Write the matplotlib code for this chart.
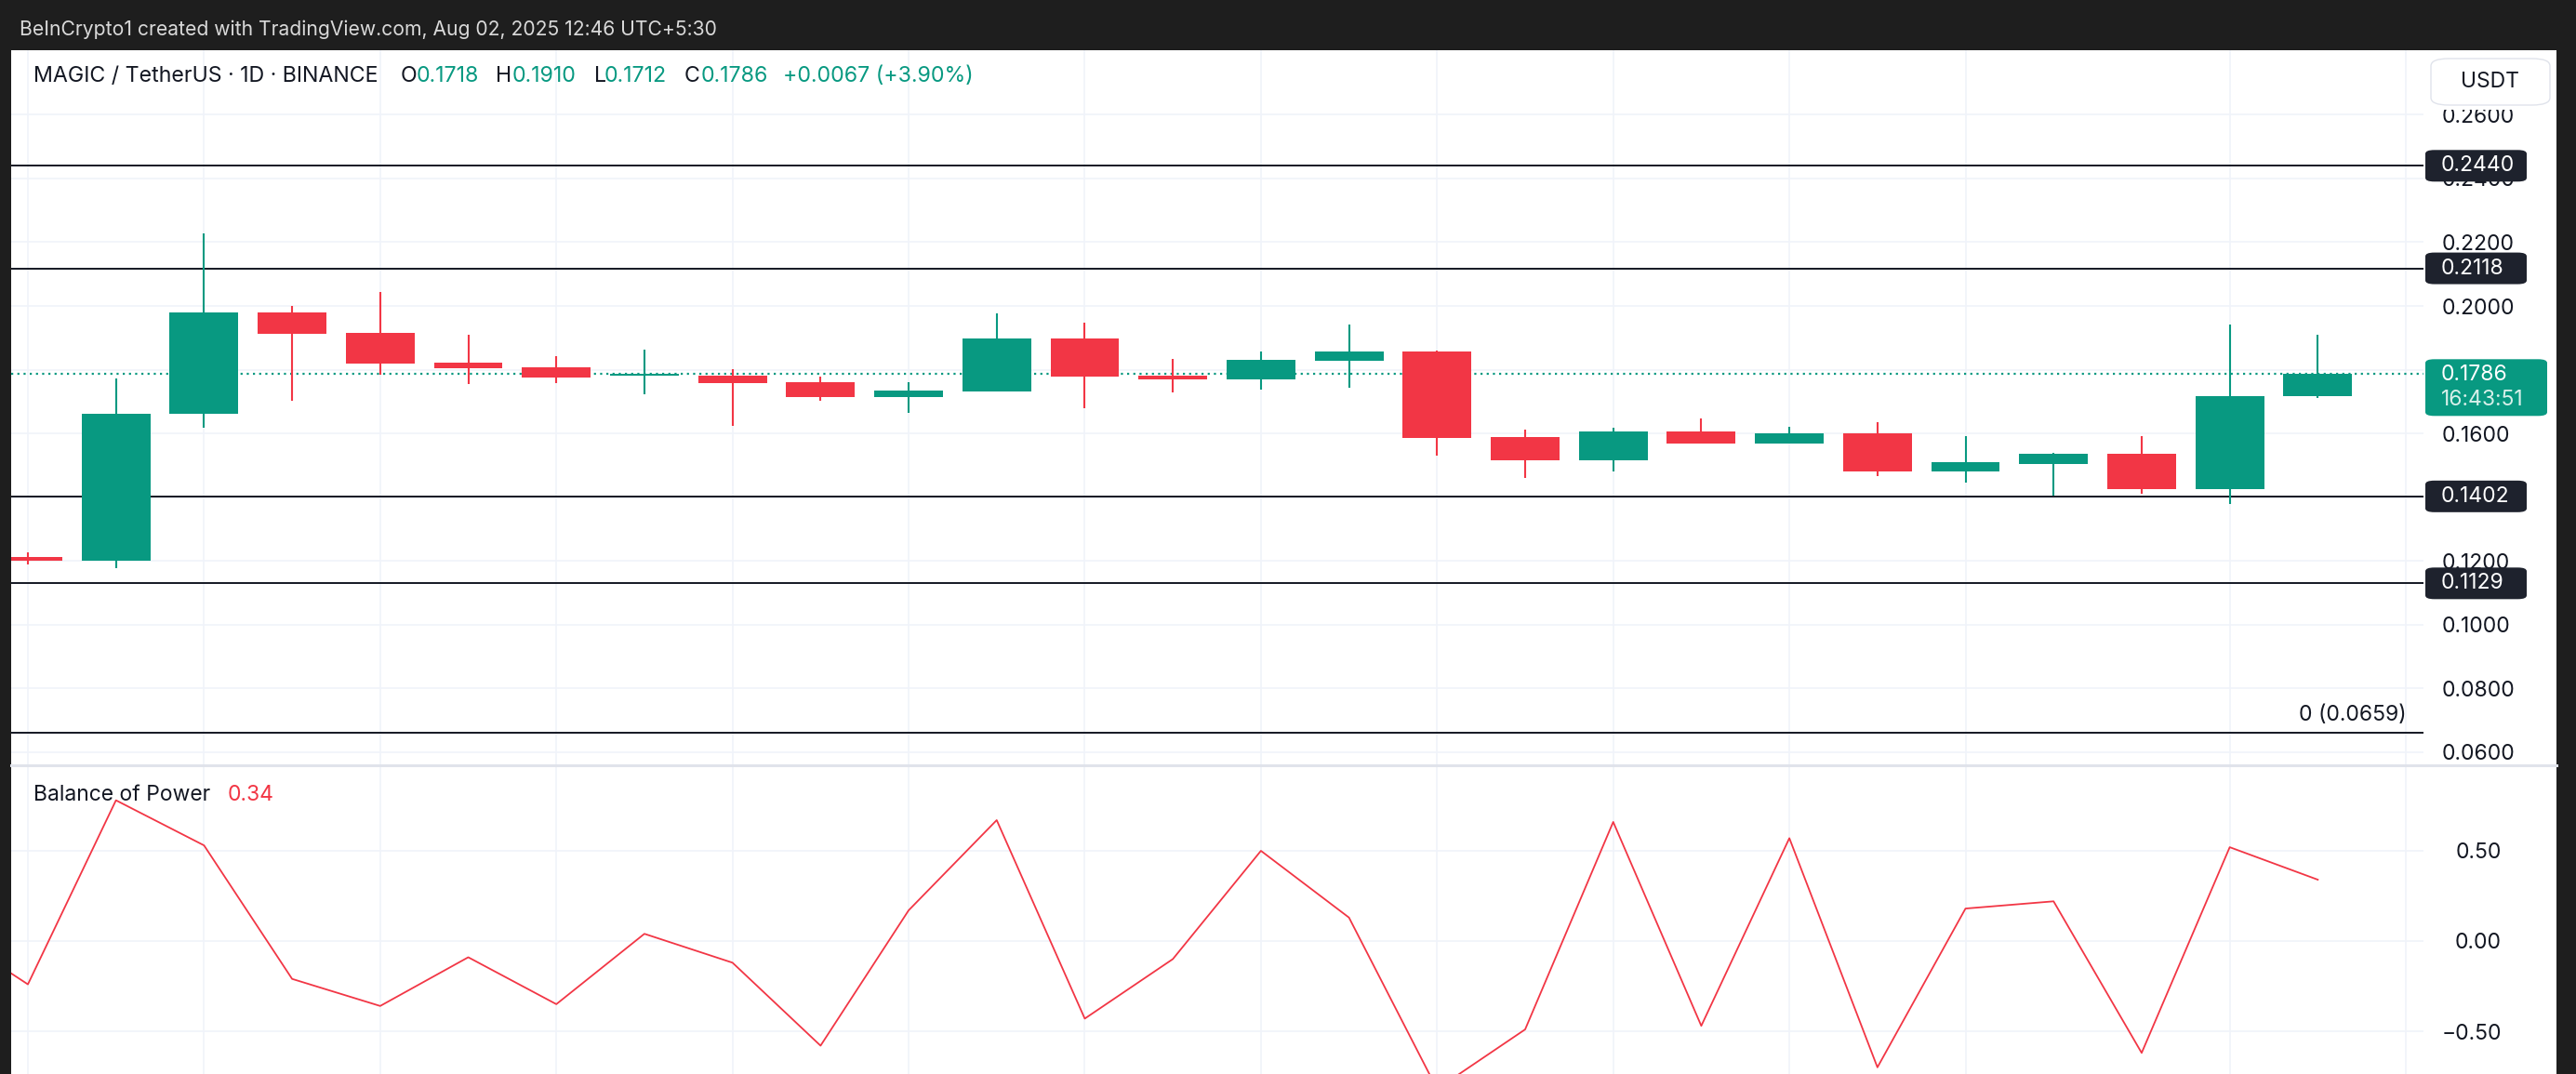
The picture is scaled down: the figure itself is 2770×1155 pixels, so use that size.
import matplotlib.pyplot as plt
from matplotlib.patches import Rectangle, FancyBboxPatch
from matplotlib.lines import Line2D

plt.rcParams['font.family'] = ['Inter', 'DejaVu Sans']

# ---- data ----
opens  = [0.1212, 0.1201, 0.1660, 0.1980, 0.1915, 0.1822, 0.1807, 0.1782, 0.1780, 0.1761,
          0.1715, 0.1732, 0.1898, 0.1781, 0.1768, 0.1829, 0.1857, 0.1588, 0.1514, 0.1606,
          0.1569, 0.1600, 0.1481, 0.1504, 0.1536, 0.1424, 0.1718]
highs  = [0.1226, 0.1772, 0.2228, 0.2000, 0.2044, 0.1910, 0.1842, 0.1863, 0.1801, 0.1778,
          0.1761, 0.1977, 0.1947, 0.1834, 0.1857, 0.1942, 0.1860, 0.1612, 0.1618, 0.1648,
          0.1620, 0.1635, 0.1592, 0.1540, 0.1591, 0.1942, 0.1910]
lows   = [0.1188, 0.1178, 0.1618, 0.1703, 0.1785, 0.1756, 0.1759, 0.1723, 0.1624, 0.1703,
          0.1665, 0.1730, 0.1680, 0.1729, 0.1737, 0.1744, 0.1531, 0.1461, 0.1481, 0.1567,
          0.1567, 0.1467, 0.1446, 0.1403, 0.1409, 0.1379, 0.1712]
closes = [0.1199, 0.1661, 0.1980, 0.1913, 0.1820, 0.1805, 0.1776, 0.1788, 0.1759, 0.1715,
          0.1734, 0.1898, 0.1779, 0.1768, 0.1831, 0.1857, 0.1586, 0.1514, 0.1606, 0.1569,
          0.1600, 0.1481, 0.1509, 0.1536, 0.1424, 0.1717, 0.1786]

# balance of power, first value belongs to the bar before the visible window
bop_x = list(range(-1, 27))
bop   = [0.08, -0.24, 0.78, 0.53, -0.21, -0.36, -0.09, -0.35, 0.04, -0.12, -0.58,
         0.17, 0.67, -0.43, -0.10, 0.50, 0.13, -0.82, -0.49, 0.66, -0.47, 0.57,
         -0.70, 0.18, 0.22, -0.62, 0.52, 0.34]

levels = [0.2440, 0.2118, 0.1402, 0.1129]
fib_zero = 0.0659
last_price = 0.1786
countdown = "16:43:51"
price_ticks = [0.06, 0.08, 0.10, 0.12, 0.14, 0.16, 0.18, 0.20, 0.22, 0.24, 0.26]
bop_ticks = [-0.5, 0.0, 0.5]
bop_labels = ["\u22120.50", "0.00", "0.50"]
grid_idx = [0, 2, 4, 6, 8, 10, 12, 14, 16, 18, 20, 22, 25, 27]

GREEN = '#089981'
RED = '#f23645'
INK = '#131722'
GRID = '#f0f3fa'
TAG = '#1e222d'

W, H = 2770, 1155
fig = plt.figure(figsize=(W / 100, H / 100), dpi=100, facecolor='#1e1e1e')


def fx(px):
    return px / W


def fy(py):
    return 1 - py / H


# white chart panel
fig.add_artist(Rectangle((fx(12), 0), fx(2749) - fx(12), fy(54), transform=fig.transFigure,
                         facecolor='white', edgecolor='none', zorder=0))

fig.text(fx(21), fy(32), "BeInCrypto1 created with TradingView.com, Aug 02, 2025 12:46 UTC+5:30",
         color='#d9d9d9', fontsize=15.2, va='center', ha='left')

# ---- price pane ----
ax = fig.add_axes([fx(12), fy(823), fx(2606) - fx(12), fy(54) - fy(823)])
ax.set_facecolor('none')
ax.set_xlim(-0.19, 27.2)
ax.set_ylim(0.05577, 0.28029)
for s in ax.spines.values():
    s.set_visible(False)
ax.yaxis.tick_right()
ax.set_yticks(price_ticks)
ax.set_yticklabels([f"{t:.4f}" for t in price_ticks])
ax.tick_params(axis='y', length=0, pad=14, labelsize=16.5, labelcolor=INK)
ax.set_xticks(grid_idx)
ax.set_xticklabels([])
ax.tick_params(axis='x', length=0)
ax.grid(True, color=GRID, lw=1.2, zorder=0)
ax.set_axisbelow(True)

for i in range(len(opens)):
    o, h, l, c = opens[i], highs[i], lows[i], closes[i]
    col = GREEN if c >= o else RED
    ax.vlines(i, l, h, color=col, lw=1.5, zorder=3)
    ax.bar(i, max(abs(c - o), 0.0004), bottom=min(o, c), width=0.78, color=col,
           edgecolor='none', zorder=4)

for lv in levels + [fib_zero]:
    ax.axhline(lv, color=INK, lw=1.4, zorder=2)
ax.axhline(last_price, color=GREEN, lw=1.6, ls=(0, (1, 2)), zorder=2)

ax.text(27.01, fib_zero + 0.0025, "0 (0.0659)", ha='right', va='bottom', fontsize=16.5,
        color=INK, zorder=5)

# header line
hdr_y = fy(82)
pieces = [(36, "MAGIC / TetherUS \u00b7 1D \u00b7 BINANCE", INK), (431, "O", INK), (448, "0.1718", GREEN),
          (533, "H", INK), (551, "0.1910", GREEN), (639, "L", INK), (650, "0.1712", GREEN),
          (736, "C", INK), (754, "0.1786", GREEN), (842, "+0.0067 (+3.90%)", GREEN)]
for px, txt, col in pieces:
    fig.text(fx(px), hdr_y, txt, color=col, fontsize=16.7, va='center', ha='left', zorder=6)

# ---- balance of power pane ----
ax2 = fig.add_axes([fx(12), 0, fx(2606) - fx(12), fy(823)])
ax2.set_facecolor('none')
ax2.set_xlim(-0.19, 27.2)
ax2.set_ylim(-0.737, 0.974)
for s in ax2.spines.values():
    s.set_visible(False)
ax2.yaxis.tick_right()
ax2.set_yticks(bop_ticks)
ax2.set_yticklabels(bop_labels)
ax2.tick_params(axis='y', length=0, pad=60.5, labelsize=16.5, labelcolor=INK)
for lab in ax2.get_yticklabels():
    lab.set_horizontalalignment('right')
ax2.set_xticks(grid_idx)
ax2.set_xticklabels([])
ax2.tick_params(axis='x', length=0)
ax2.grid(True, color=GRID, lw=1.2, zorder=0)
ax2.set_axisbelow(True)
ax2.plot(bop_x, bop, color=RED, lw=1.3, zorder=3)

fig.text(fx(36), fy(855), "Balance of Power", color=INK, fontsize=16.5, va='center', ha='left')
fig.text(fx(245), fy(855), f"{bop[-1]:.2f}", color=RED, fontsize=16.5, va='center', ha='left')

# pane separator
fig.add_artist(Line2D([fx(12), fx(2749)], [fy(823), fy(823)], transform=fig.transFigure,
                      color='#e0e3eb', lw=2.2, zorder=5))

# ---- axis tags ----
fig.canvas.draw()


def ypx(v):
    # pixel row (from the top) of a price value
    return H - ax.transData.transform((0, v))[1]


def box(x0, x1, y0, y1, fc, ec='none', r=4):
    fig.add_artist(FancyBboxPatch((fx(x0), fy(y1)), fx(x1) - fx(x0), fy(y0) - fy(y1),
                                  boxstyle=f"round,pad=0,rounding_size={r / H}",
                                  transform=fig.transFigure, facecolor=fc, edgecolor=ec,
                                  lw=1, zorder=8, mutation_aspect=1))


for lv in levels:
    yc = ypx(lv)
    box(2608, 2717, yc - 17, yc + 17, TAG)
    fig.text(fx(2625), fy(yc), f"{lv:.4f}", color='white', fontsize=16.5, va='center',
             ha='left', zorder=9)

yc = ypx(last_price)
box(2608, 2739, yc - 16, yc + 45, GREEN)
fig.text(fx(2625), fy(yc + 1), f"{last_price:.4f}", color='white', fontsize=16.5,
         va='center', ha='left', zorder=9)
fig.text(fx(2625), fy(yc + 28), countdown, color='#d8f0ea', fontsize=16.5,
         va='center', ha='left', zorder=9)

# currency button (white backing hides the top of the 0.2600 label, as in the original)
fig.add_artist(Rectangle((fx(2608), fy(118)), fx(2746) - fx(2608), fy(58) - fy(118),
                         transform=fig.transFigure, facecolor='white', edgecolor='none', zorder=7))
box(2614, 2742, 63, 113, 'white', ec='#e0e3eb', r=8)
fig.text(fx(2678), fy(88), "USDT", color=INK, fontsize=16.5, va='center', ha='center', zorder=9)

fig.savefig('out.png', dpi=100, facecolor=fig.get_facecolor())
